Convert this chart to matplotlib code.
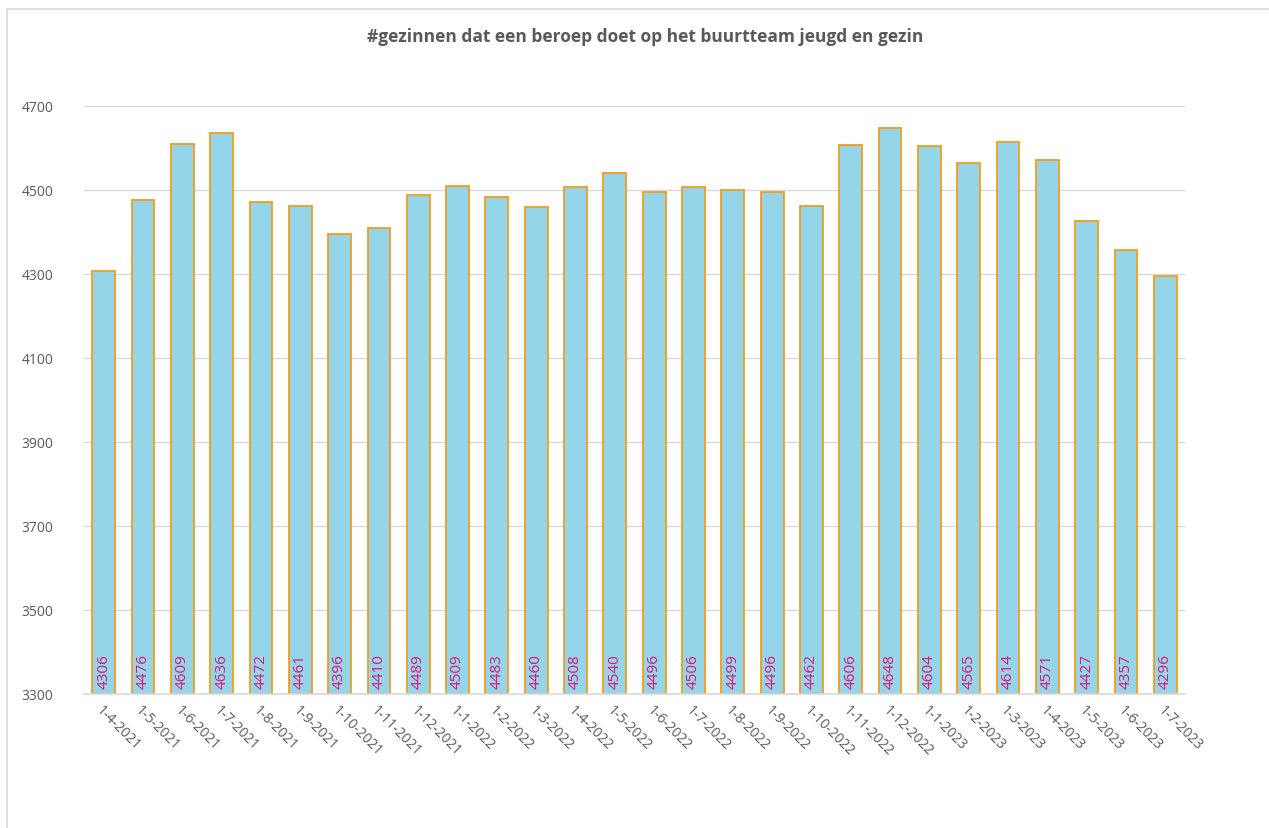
import matplotlib
matplotlib.use("Agg")
import matplotlib.pyplot as plt
from matplotlib.patches import Rectangle

dates = ["1-4-2021", "1-5-2021", "1-6-2021", "1-7-2021", "1-8-2021", "1-9-2021",
         "1-10-2021", "1-11-2021", "1-12-2021", "1-1-2022", "1-2-2022", "1-3-2022",
         "1-4-2022", "1-5-2022", "1-6-2022", "1-7-2022", "1-8-2022", "1-9-2022",
         "1-10-2022", "1-11-2022", "1-12-2022", "1-1-2023", "1-2-2023", "1-3-2023",
         "1-4-2023", "1-5-2023", "1-6-2023", "1-7-2023"]
values = [4306, 4476, 4609, 4636, 4472, 4461, 4396, 4410, 4489, 4509, 4483, 4460,
          4508, 4540, 4496, 4506, 4499, 4496, 4462, 4606, 4648, 4604, 4565, 4614,
          4571, 4427, 4357, 4296]
yticks = [3300, 3500, 3700, 3900, 4100, 4300, 4500, 4700]

plt.rcParams['font.family'] = ['Open Sans', 'DejaVu Sans']

W, H = 1269, 829
fig = plt.figure(figsize=(W / 100, H / 100), dpi=100)
fig.patch.set_facecolor('white')
fig.patches.append(Rectangle((7 / W, -0.2), 1.2, 1.2 - 10 / H, transform=fig.transFigure,
                             fill=False, edgecolor='#d9d9d9', linewidth=1.2))

left, right, top, bottom = 84, 1185, 107, 695
ax = fig.add_axes([left / W, 1 - bottom / H, (right - left) / W, (bottom - top) / H])

x = list(range(len(values)))
ax.bar(x, [v - 3300 for v in values], bottom=3300, width=0.58, color='#95d5e9',
       edgecolor='#f59c1a', linewidth=1.3, zorder=2)
for xi, v in zip(x, values):
    ax.text(xi, 3300 + 14, str(v), rotation=90, ha='center', va='bottom',
            color='#e0147a', fontsize=11, zorder=3)

ax.set_xlim(-0.5, len(values) - 0.5)
ax.set_ylim(3300, 4700)
ax.set_yticks(yticks)
ax.set_yticklabels([str(t) for t in yticks], color='#595959', fontsize=10)
ax.set_xticks(x)
ax.set_xticklabels(dates, rotation=-45, ha='left', va='top', rotation_mode='anchor',
                   color='#595959', fontsize=10)
ax.tick_params(axis='both', length=0, pad=6)
ax.tick_params(axis='y', pad=22)
ax.grid(axis='y', color='#d9d9d9', linewidth=1, zorder=0)
ax.set_axisbelow(True)
for s in ['top', 'right', 'left']:
    ax.spines[s].set_visible(False)
ax.spines['bottom'].set_color('#d9d9d9')
ax.spines['bottom'].set_linewidth(1.2)

fig.text(645 / W, 1 - 37 / H, "#gezinnen dat een beroep doet op het buurtteam jeugd en gezin",
         ha='center', va='center', fontsize=12.5, fontweight='bold', color='#595959')

fig.savefig("out.png", dpi=100)
